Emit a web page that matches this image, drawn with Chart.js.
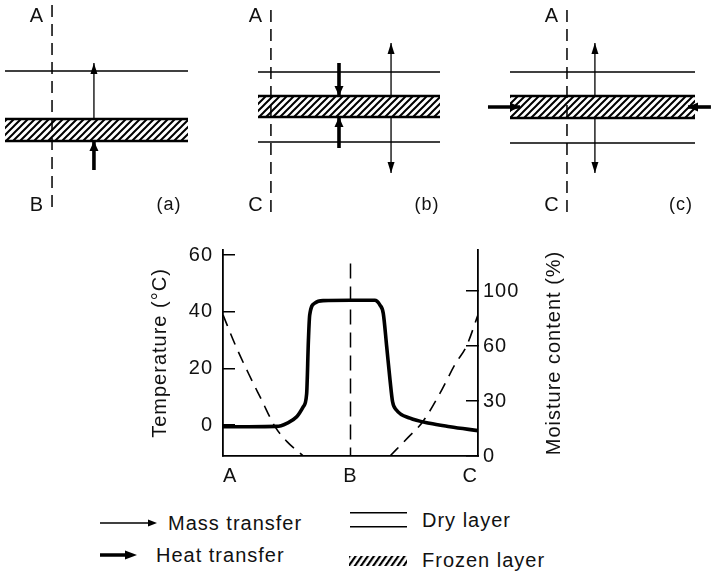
<!DOCTYPE html>
<html><head><meta charset="utf-8">
<script src="https://cdn.jsdelivr.net/npm/chart.js@4/dist/chart.umd.min.js"></script>
<style>
html,body{margin:0;padding:0;background:#fff;}
#wrap{position:relative;width:711px;height:576px;overflow:hidden;background:#fff;font-family:"Liberation Sans",Arial,sans-serif;color:#111;}
canvas{position:absolute;}
.lg{position:absolute;font-size:20px;line-height:20px;white-space:nowrap;letter-spacing:1px;color:#111;}
svg{position:absolute;overflow:visible;}
</style></head>
<body><div id="wrap">
<canvas id="pa"></canvas><canvas id="pb"></canvas><canvas id="pc"></canvas>
<canvas id="main" width="711" height="270" style="left:0;top:230px;width:711px;height:270px"></canvas>

<svg style="left:100px;top:516px" width="60" height="14"><line x1="0" y1="7" x2="50" y2="7" stroke="#000" stroke-width="1.3"/><polygon points="48,3.5 57,7 48,10.5" fill="#000"/></svg>
<div class="lg" style="left:168px;top:513px">Mass transfer</div>
<svg style="left:100px;top:548px" width="40" height="14"><line x1="0" y1="7" x2="28" y2="7" stroke="#000" stroke-width="3.5"/><polygon points="25,2.5 37,7 25,11.5" fill="#000"/></svg>
<div class="lg" style="left:156px;top:545px">Heat transfer</div>
<svg style="left:350px;top:510px" width="58" height="20"><line x1="0" y1="2.7" x2="57" y2="2.7" stroke="#000" stroke-width="1.5"/><line x1="0" y1="16.7" x2="57" y2="16.7" stroke="#000" stroke-width="1.5"/></svg>
<div class="lg" style="left:422px;top:510px">Dry layer</div>
<svg style="left:349px;top:555px" width="59" height="12"><defs><pattern id="hz" width="5" height="5" patternUnits="userSpaceOnUse" patternTransform="rotate(35)"><rect width="5" height="5" fill="#fff"/><rect width="2.2" height="5" fill="#000"/></pattern></defs><rect x="0" y="1" width="58" height="10" fill="url(#hz)"/></svg>
<div class="lg" style="left:422px;top:550px">Frozen layer</div>
</div>
<script>
// ================= DATA =================
// Main graph: position through the sample (A = surface, B = centre, C = other surface)
const positionLabels = ['A', 'B', 'C'];
const positionValues = [0, 1, 2];
// Temperature profile (°C)
const tempX = [0, 0.2, 0.42, 0.50, 0.578, 0.63, 0.656, 0.67, 0.68, 0.72, 0.785, 1.0, 1.19, 1.23, 1.257, 1.284, 1.31, 1.33, 1.36, 1.467, 1.62, 1.78, 2.0];
const tempC = [-0.6, -0.6, -0.5, 0.6, 2.9, 6.5, 11, 30, 38.8, 43, 43.9, 44, 44, 42.4, 39.4, 27.6, 15.9, 8.2, 5.3, 2.4, 0.6, -0.6, -2.0];
// Moisture content (%), plotted on the figure's right axis
const moistLeftX = [0, 0.1, 0.2, 0.3, 0.408, 0.5, 0.63];
const moistLeftPct = [77, 60, 45, 31, 16, 8, 0];
const moistRightX = [1.31, 1.45, 1.57, 1.70, 1.82, 1.91, 2.0];
const moistRightPct = [0, 10, 19, 34, 50, 60, 77];
const sectionBTopC = 57;
// Axis ticks
const tempTicks = [0, 20, 40, 60];
const moistTickValues = [0, 30, 60, 90];
const moistTickLabels = ['0', '30', '60', '100'];

// Schematics (a), (b), (c): frozen layer spans x 0..10 in panel units
const panelNames = ['(a)', '(b)', '(c)'];
const panelTopLabels = ['A', 'A', 'A'];
const panelBottomLabels = ['B', 'C', 'C'];
const dryLineLevels = [[15.9], [15.8, 8.8], [15.8, 8.7]];
const frozenBands = [[11.1, 8.9], [13.4, 11.3], [13.4, 11.2]];
const sectionLineX = [2.57, 0.71, 3.08];
const sectionLineSpan = [[22.5, 1.8], [22.0, 1.8], [22.0, 1.8]];
const massArrows = [
  [[4.86, 11.1, 4.86, 16.7]],
  [[7.31, 13.4, 7.31, 18.7], [7.31, 11.3, 7.31, 5.7]],
  [[4.59, 13.4, 4.59, 18.7], [4.59, 11.2, 4.59, 5.7]]
];
const heatArrows = [
  [[4.86, 6.0, 4.86, 8.9]],
  [[4.45, 16.7, 4.45, 13.4], [4.45, 8.2, 4.45, 11.3]],
  [[-1.19, 12.3, 0.54, 12.3], [10.86, 12.3, 9.62, 12.3]]
];
const panelNameX = [8.96, 9.29, 9.24];

// ================= LAYOUT =================
const FONT = '"Liberation Sans", Arial, sans-serif';
Chart.defaults.font.family = FONT;
Chart.defaults.color = '#111';
const panelCanvas = [[0, 236], [236, 238], [474, 237]];
const panelLayerPx = [[5, 188], [258, 440], [510, 695]];
const panelH = 230, panelYMax = 23;

const pairs = (xs, ys) => xs.map((x, i) => ({x: x, y: ys[i]}));

function hatchPattern() {
  const c = document.createElement('canvas');
  c.width = 7; c.height = 7;
  const g = c.getContext('2d');
  g.fillStyle = '#fff'; g.fillRect(0, 0, 7, 7);
  g.strokeStyle = '#000'; g.lineWidth = 2;
  g.beginPath();
  g.moveTo(-1, 8); g.lineTo(8, -1);
  g.moveTo(-1, 1); g.lineTo(1, -1);
  g.moveTo(6, 8); g.lineTo(8, 6);
  g.stroke();
  return g.createPattern(c, 'repeat');
}

const arrowHeads = {
  id: 'arrowHeads',
  afterDatasetsDraw(chart) {
    const ctx = chart.ctx;
    chart.data.datasets.forEach((d, i) => {
      if (!d.arrow) return;
      const pts = chart.getDatasetMeta(i).data;
      const p0 = pts[pts.length - 2], p1 = pts[pts.length - 1];
      const ang = Math.atan2(p1.y - p0.y, p1.x - p0.x);
      ctx.save();
      ctx.translate(p1.x, p1.y); ctx.rotate(ang);
      ctx.beginPath();
      ctx.moveTo(0, 0); ctx.lineTo(-d.arrow.len, -d.arrow.w / 2); ctx.lineTo(-d.arrow.len, d.arrow.w / 2);
      ctx.closePath(); ctx.fillStyle = '#000'; ctx.fill();
      ctx.restore();
    });
  }
};
const spacing = { id: 'spacing', beforeDraw(chart) { chart.ctx.letterSpacing = '1px'; } };

function makePanel(id, i) {
  const cv = document.getElementById(id);
  const [cl, cw] = panelCanvas[i];
  cv.width = cw; cv.height = panelH;
  cv.style.left = cl + 'px'; cv.style.top = '0px';
  cv.style.width = cw + 'px'; cv.style.height = panelH + 'px';
  const [l0, l1] = panelLayerPx[i];
  const u = (l1 - l0) / 10;
  const xmin = (cl - l0) / u, xmax = (cl + cw - l0) / u;
  const ds = [];
  const line = (pts, extra) => Object.assign({data: pts, borderColor: '#000', backgroundColor: '#000', fill: false, pointRadius: 0, tension: 0, clip: false}, extra);
  ds.push(line([{x: sectionLineX[i], y: sectionLineSpan[i][0]}, {x: sectionLineX[i], y: sectionLineSpan[i][1]}], {borderWidth: 1.5, borderDash: [12, 7], order: 2}));
  dryLineLevels[i].forEach(v => ds.push(line([{x: 0, y: v}, {x: 10, y: v}], {borderWidth: 1.5, order: 3})));
  massArrows[i].forEach(a => ds.push(line([{x: a[0], y: a[1]}, {x: a[2], y: a[3]}], {borderWidth: 1.3, arrow: {len: 11, w: 7}, order: 1})));
  heatArrows[i].forEach(a => ds.push(line([{x: a[0], y: a[1]}, {x: a[2], y: a[3]}], {borderWidth: 3.6, arrow: {len: 10, w: 9}, order: 1})));
  ds.push(line([{x: 0, y: frozenBands[i][0]}, {x: 10, y: frozenBands[i][0]}], {borderWidth: 2.5, fill: '+1', backgroundColor: hatchPattern(), order: 5}));
  ds.push(line([{x: 0, y: frozenBands[i][1]}, {x: 10, y: frozenBands[i][1]}], {borderWidth: 2.5, order: 5}));
  const labels = {
    id: 'panelLabels',
    afterDraw(chart) {
      const ctx = chart.ctx, sx = chart.scales.x, sy = chart.scales.y;
      ctx.save();
      ctx.fillStyle = '#111'; ctx.textAlign = 'center'; ctx.textBaseline = 'middle';
      ctx.font = '20px ' + FONT;
      const lx = sx.getPixelForValue(sectionLineX[i]) - 15;
      ctx.fillText(panelTopLabels[i], lx, sy.getPixelForValue(21.4));
      ctx.fillText(panelBottomLabels[i], lx, sy.getPixelForValue(2.5));
      ctx.font = '18px ' + FONT;
      ctx.fillText(panelNames[i], sx.getPixelForValue(panelNameX[i]), sy.getPixelForValue(2.5));
      ctx.restore();
    }
  };
  new Chart(cv, {
    type: 'line',
    data: {datasets: ds},
    options: {
      responsive: false, animation: false, devicePixelRatio: 1,
      layout: {padding: 0},
      plugins: {legend: {display: false}, tooltip: {enabled: false}, colors: {enabled: false}, filler: {drawTime: 'beforeDatasetsDraw'}},
      scales: {
        x: {type: 'linear', display: false, min: xmin, max: xmax},
        y: {type: 'linear', display: false, min: 0, max: panelYMax}
      }
    },
    plugins: [spacing, arrowHeads, labels]
  });
}
makePanel('pa', 0); makePanel('pb', 1); makePanel('pc', 2);

// ================= MAIN GRAPH =================
const tempMax = 61.76, tempMin = -10.94, moistMax = 112.4;
const noPad = s => { s.paddingTop = 0; s.paddingBottom = 0; s.paddingLeft = 0; s.paddingRight = 0; };
const rightTitle = {
  id: 'rightTitle',
  afterDraw(chart) {
    const s = chart.scales.y2, ctx = chart.ctx;
    ctx.save();
    ctx.translate(s.right - 157, (s.top + s.bottom) / 2);
    ctx.rotate(-Math.PI / 2);
    ctx.font = '20px ' + FONT; ctx.fillStyle = '#111';
    ctx.textAlign = 'center'; ctx.textBaseline = 'middle';
    ctx.fillText('Moisture content (%)', 0, 0);
    ctx.restore();
  }
};
new Chart(document.getElementById('main'), {
  type: 'line',
  data: {datasets: [
    {label: 'Temperature', data: pairs(tempX, tempC), yAxisID: 'y', borderColor: '#000', backgroundColor: '#000', borderWidth: 3.6, cubicInterpolationMode: 'monotone', pointRadius: 0, fill: false, order: 0},
    {label: 'Moisture A-B', data: pairs(moistLeftX, moistLeftPct), yAxisID: 'y2', borderColor: '#000', backgroundColor: '#000', borderWidth: 1.6, borderDash: [12, 8], cubicInterpolationMode: 'monotone', pointRadius: 0, fill: false, order: 1},
    {label: 'Moisture B-C', data: pairs(moistRightX, moistRightPct), yAxisID: 'y2', borderColor: '#000', backgroundColor: '#000', borderWidth: 1.6, borderDash: [12, 8], cubicInterpolationMode: 'monotone', pointRadius: 0, fill: false, order: 1},
    {label: 'B', data: [{x: positionValues[1], y: sectionBTopC}, {x: positionValues[1], y: tempMin}], yAxisID: 'y', borderColor: '#000', backgroundColor: '#000', borderWidth: 1.5, borderDash: [15, 8], pointRadius: 0, fill: false, order: 2}
  ]},
  options: {
    responsive: false, animation: false, devicePixelRatio: 1,
    layout: {padding: {top: 20, left: 0, right: 0, bottom: 0}},
    plugins: {legend: {display: false}, tooltip: {enabled: false}, colors: {enabled: false}},
    scales: {
      x: {
        type: 'linear', position: 'bottom', min: 0, max: 2,
        grid: {display: false, drawTicks: false},
        border: {display: true, color: '#000', width: 1.8},
        ticks: {padding: 8, color: '#111', font: {size: 20}, maxRotation: 0, align: 'inner',
          callback: v => { const k = positionValues.indexOf(v); return k >= 0 ? positionLabels[k] : ''; }},
        afterBuildTicks: s => { s.ticks = positionValues.map(v => ({value: v})); },
        afterFit: s => { s.height = 44; noPad(s); }
      },
      y: {
        type: 'linear', position: 'left', min: tempMin, max: tempMax,
        grid: {display: true, drawOnChartArea: false, drawTicks: true, tickLength: -12, color: '#000', lineWidth: 1.5},
        border: {display: true, color: '#000', width: 1.8},
        ticks: {padding: 22, color: '#111', font: {size: 20}},
        afterBuildTicks: s => { s.ticks = tempTicks.map(v => ({value: v})); },
        afterFit: s => { s.width = 223; noPad(s); },
        title: {display: true, text: 'Temperature (°C)', color: '#111', font: {size: 20}, padding: {top: 148, bottom: 0}}
      },
      y2: {
        type: 'linear', position: 'right', min: 0, max: moistMax,
        grid: {display: true, drawOnChartArea: false, drawTicks: true, tickLength: -12, color: '#000', lineWidth: 1.5},
        border: {display: true, color: '#000', width: 1.8},
        ticks: {padding: 17, color: '#111', font: {size: 20},
          callback: v => { const k = moistTickValues.indexOf(v); return k >= 0 ? moistTickLabels[k] : ''; }},
        afterBuildTicks: s => { s.ticks = moistTickValues.map(v => ({value: v})); },
        afterFit: s => { s.width = 233; noPad(s); }
      }
    }
  },
  plugins: [spacing, rightTitle]
});
</script>
</body></html>
